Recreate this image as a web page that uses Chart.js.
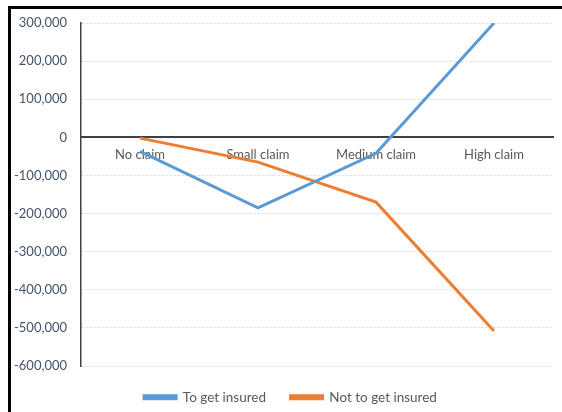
<!DOCTYPE html>
<html>
<head>
<meta charset="utf-8">
<script src="https://cdn.jsdelivr.net/npm/chart.js@4/dist/chart.umd.min.js"></script>
<style>
  html, body { margin: 0; padding: 0; background: #fff; }
  #wrap { position: relative; width: 562px; height: 412px; overflow: hidden; }
  #frame { position: absolute; left: 8px; top: 6px; width: 600px; height: 450px;
           border-left: 3px solid #000; border-top: 3px solid #000; box-sizing: border-box; }
  canvas { position: absolute; left: 0; top: 0; }
</style>
</head>
<body>
<div id="wrap">
  <div id="frame"></div>
  <canvas id="chart" width="562" height="412"></canvas>
</div>
<script>
// Outcome per claim scenario
const categories = ['No claim', 'Small claim', 'Medium claim', 'High claim'];
const insured = [-37000, -185000, -42000, 300000];
const notInsured = [-2000, -65000, -170000, -508000];
const seriesNames = ['To get insured', 'Not to get insured'];
const yTicks = { min: -600000, max: 300000, step: 100000 };

const blue = '#5b9bd5';
const orange = '#ed7d31';
const font = { family: 'Lato, "Open Sans", sans-serif', size: 13 };

// Keep the legend box to exactly the strip below the plot,
// centred under the plot area rather than the whole canvas
const legendFit = {
  id: 'legendFit',
  beforeInit(chart) {
    const fit = chart.legend.fit;
    chart.legend.fit = function () {
      fit.call(this);
      this.height = 46;
    };
  },
  afterLayout(chart) {
    const lg = chart.legend;
    lg.left += 14;
    lg.right += 14;
  }
};

new Chart(document.getElementById('chart'), {
  type: 'line',
  data: {
    labels: categories,
    datasets: [
      { label: seriesNames[0], data: insured, borderColor: blue, backgroundColor: blue,
        borderWidth: 3, pointRadius: 0, tension: 0 },
      { label: seriesNames[1], data: notInsured, borderColor: orange, backgroundColor: orange,
        borderWidth: 3, pointRadius: 0, tension: 0 }
    ]
  },
  options: {
    responsive: false,
    animation: false,
    layout: { padding: { top: 23, right: 9, left: 0, bottom: 0 } },
    plugins: {
      tooltip: { enabled: false },
      legend: {
        position: 'bottom',
        labels: {
          boxWidth: 32,
          boxHeight: 3,
          padding: 24.5,
          color: '#595959',
          font: { family: font.family, size: 13.5 }
        }
      }
    },
    scales: {
      x: {
        position: { y: 0 },
        offset: true,
        grid: { display: false, drawTicks: false },
        border: { display: true, color: '#404040', width: 2 },
        ticks: { color: '#595959', font: font, padding: 10, maxRotation: 0 }
      },
      y: {
        min: yTicks.min,
        max: yTicks.max,
        grid: { color: '#d9d9d9', lineWidth: 1, drawTicks: false },
        border: { display: true, color: '#404040', width: 1.5, dash: [2, 2] },
        ticks: {
          stepSize: yTicks.step,
          color: '#44546a',
          font: font,
          padding: 14,
          callback: v => v.toLocaleString('en-US')
        },
        afterFit(scale) { scale.width = 81; }
      }
    }
  },
  plugins: [legendFit]
});
</script>
</body>
</html>
